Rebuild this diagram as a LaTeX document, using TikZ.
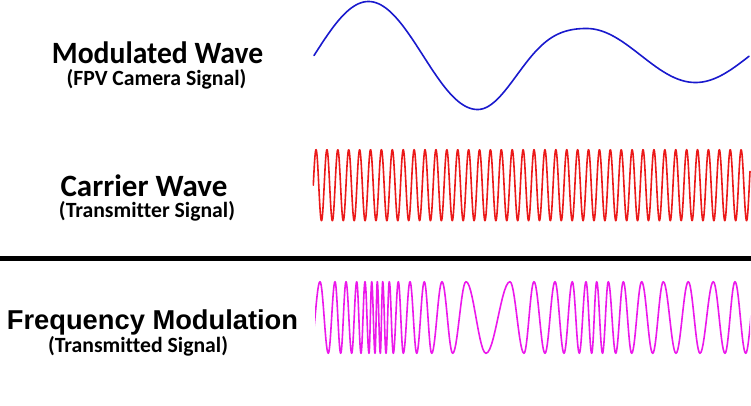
\documentclass[tikz,border=0pt]{standalone}
\usepackage{fontspec}
\setmainfont{Carlito}[Ligatures=NoCommon]
\newfontfamily\arialfam{Liberation Sans}
\definecolor{wblue}{RGB}{25,25,205}
\definecolor{wred}{RGB}{235,25,25}
\definecolor{wmag}{RGB}{235,25,235}
\begin{document}
\begin{tikzpicture}[x=1pt,y=-1pt,
  ttl/.style={anchor=base,inner sep=0pt,font=\bfseries\fontsize{31}{36}\selectfont},
  subttl/.style={anchor=base,inner sep=0pt,font=\bfseries\fontsize{21.7}{26}\selectfont},
  wave/.style={line width=1.6pt,line join=round,line cap=round}]
\useasboundingbox (0,0) rectangle (751,406);
% labels
\node[ttl] (t1) at (157.5,63.3) {\scalebox{0.955}[1]{Modulated Wave}};
\node[subttl] (s1) at (156.5,85.5) {(FPV Camera Signal)};
\node[ttl] (t2) at (144,196.7) {Carrier Wave};
\node[subttl] (s2) at (147,217.5) {(Transmitter Signal)};
\node[ttl,font=\arialfam\bfseries\fontsize{27.3}{32}\selectfont] (t3) at (152.5,329) {Frequency Modulation};
\node[subttl] (s3) at (138,352) {(Transmitted Signal)};
% separator
\coordinate (sepL) at (0,258.5);
\coordinate (sepR) at (751,258.5);
\draw[line width=5pt] (sepL) -- (sepR);
% modulating wave
\draw[wave,wblue] plot[domain=314:749,samples=400]
  (\x,{55.5-(\x<478 ? 54 : (\x<587 ? 40.5+13.5*cos(1.6514*(\x-478)) : 27))*sin(1.6514*(\x-314))});
% carrier
\draw[wave,wred] plot[domain=313.3:750,samples=1400]
  (\x,{185.2-35.5*sin(33.0275*(\x-313.3))});
% FM
\begin{scope}
\clip (315,270) rectangle (750,370);
\draw[wave,wmag] (310,353.3)
  \foreach \b [remember=\b as \a (initially 310), count=\i] in
  {320,328.3,335,340.7,346,351.7,356.7,361,365,369,371.7,375,377.3,380.3,382.7,386,389.3,393.3,398.3,403.3,410,416.7,424.3,431.7,442,452.7,466,486,510,524,534,545,555,564,572.3,579.3,586,591.7,596.7,602.5,608.3,615.7,623.3,631.7,641.7,652.7,663.3,676,688.3,700,713.3,725,735,745.7,756}
  { -- plot[domain=\a:\b,samples=14] (\x,{317.5+(2*isodd(\i)-1)*35.8*cos(180*(\x-\a)/(\b-\a))}) };
\end{scope}
\end{tikzpicture}
\end{document}
